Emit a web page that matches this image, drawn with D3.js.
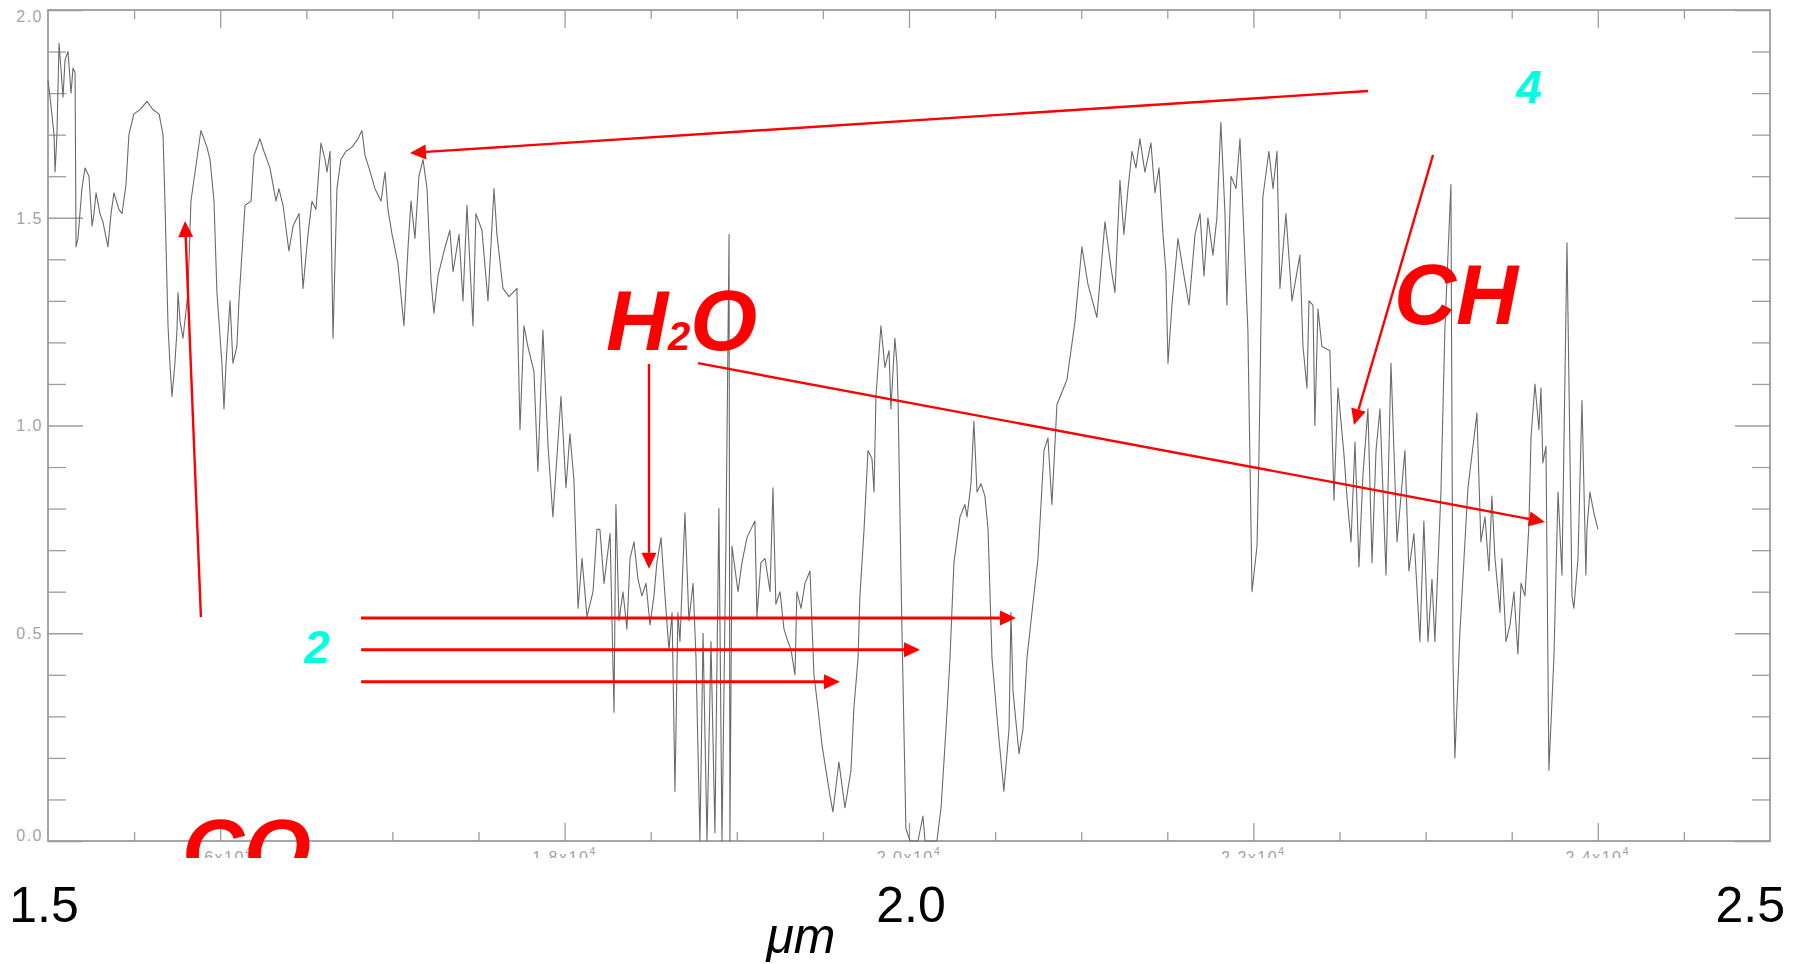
<!DOCTYPE html>
<html lang="en">
<head>
	<meta charset="UTF-8">
	<title>near-IR spectrum</title>
	<script src="https://cdn.jsdelivr.net/npm/d3@7"></script>
	<style>
		body{margin:0;background:#fff;}
		svg{display:block;font-family:"Liberation Sans",Arial,sans-serif;}
	</style>
</head>
<body>
<div id="chart"></div>
<script>
// spectrum: wavelength in Angstrom, relative flux
var wavelength = [
	15000,15012,15035,15041,15052,15064,15075,15087,15099,15116,15134,15145,15157,15163,15174,15197,15215,15238,15256,15267,
	15279,15302,15319,15348,15366,15383,15412,15430,15453,15470,15499,15534,15575,15610,15645,15668,15679,15697,15708,15720,
	15737,15749,15755,15767,15784,15813,15830,15854,15888,15923,15941,15964,15981,16010,16022,16034,16057,16074,16097,16109,
	16144,16179,16196,16231,16254,16289,16324,16341,16365,16399,16423,16458,16481,16510,16533,16556,16585,16609,16620,16638,
	16655,16678,16701,16730,16765,16800,16823,16841,16864,16899,16934,16957,16974,16998,17032,17067,17091,17108,17131,17154,
	17178,17201,17224,17241,17265,17300,17334,17352,17387,17410,17433,17468,17485,17520,17555,17590,17607,17642,17677,17723,
	17741,17764,17787,17822,17845,17874,17904,17932,17979,18008,18031,18054,18078,18101,18130,18165,18188,18205,18229,18264,
	18287,18298,18316,18339,18362,18380,18403,18426,18449,18473,18496,18519,18536,18560,18583,18606,18624,18641,18658,18670,
	18699,18722,18746,18763,18786,18804,18827,18850,18873,18896,18914,18937,18955,18960,18972,19007,19030,19059,19082,19105,
	19117,19140,19164,19193,19210,19227,19251,19274,19297,19315,19338,19349,19373,19396,19425,19448,19471,19495,19541,19558,
	19593,19628,19663,19680,19704,19715,19739,19762,19785,19797,19808,19837,19860,19884,19895,19918,19930,19936,19959,19982,
	20006,20052,20081,20093,20162,20186,20215,20238,20261,20296,20325,20337,20360,20377,20395,20418,20441,20459,20482,20517,
	20551,20581,20592,20604,20639,20662,20685,20714,20749,20784,20807,20830,20859,20917,20964,21004,21039,21091,21138,21173,
	21196,21225,21248,21272,21295,21318,21341,21370,21405,21428,21452,21475,21492,21504,21527,21562,21597,21626,21661,21690,
	21713,21736,21765,21788,21811,21835,21846,21870,21899,21922,21945,21968,21992,22021,22032,22055,22090,22114,22137,22154,
	22189,22224,22270,22288,22311,22323,22346,22357,22375,22398,22444,22468,22491,22526,22543,22567,22590,22613,22636,22665,
	22689,22712,22735,22770,22799,22834,22880,22903,22932,22967,22990,23014,23037,23054,23089,23112,23147,23159,23170,23199,
	23223,23246,23281,23298,23321,23345,23368,23385,23403,23432,23443,23467,23490,23513,23536,23554,23577,23600,23612,23635,
	23658,23670,23681,23699,23716,23745,23769,23792,23821,23850,23861,23885,23908,23931,23937,23954,23977,24001
];
var flux = [
	1.83,1.79,1.70,1.61,1.70,1.92,1.86,1.79,1.88,1.90,1.80,1.86,1.85,1.43,1.45,1.57,1.62,1.60,1.48,1.51,
	1.56,1.51,1.49,1.43,1.51,1.56,1.52,1.51,1.58,1.70,1.75,1.76,1.78,1.76,1.75,1.70,1.54,1.24,1.15,1.07,
	1.15,1.23,1.32,1.25,1.21,1.32,1.54,1.61,1.71,1.67,1.64,1.54,1.32,1.15,1.04,1.15,1.30,1.15,1.19,1.30,
	1.53,1.54,1.65,1.69,1.66,1.62,1.54,1.57,1.53,1.42,1.48,1.51,1.33,1.46,1.54,1.52,1.68,1.64,1.61,1.66,
	1.21,1.57,1.64,1.66,1.67,1.69,1.71,1.65,1.62,1.57,1.54,1.61,1.52,1.46,1.39,1.24,1.43,1.54,1.45,1.60,
	1.64,1.57,1.35,1.27,1.36,1.42,1.47,1.37,1.46,1.30,1.53,1.24,1.51,1.47,1.30,1.57,1.46,1.33,1.31,1.33,
	0.99,1.24,1.19,1.13,0.89,1.23,0.95,0.78,1.07,0.85,0.98,0.87,0.56,0.68,0.54,0.60,0.75,0.75,0.62,0.74,
	0.31,0.81,0.53,0.60,0.51,0.68,0.72,0.63,0.59,0.62,0.52,0.59,0.67,0.73,0.59,0.46,0.55,0.12,0.55,0.48,
	0.79,0.53,0.62,0.44,0.00,0.50,0.00,0.48,0.02,0.80,0.00,0.72,1.46,0.00,0.71,0.60,0.67,0.73,0.75,0.77,
	0.54,0.67,0.68,0.60,0.85,0.57,0.60,0.51,0.48,0.46,0.40,0.60,0.56,0.62,0.65,0.40,0.32,0.23,0.11,0.07,
	0.19,0.08,0.17,0.32,0.44,0.59,0.75,0.94,0.92,0.84,1.07,1.24,1.14,1.18,1.04,1.21,1.15,1.07,0.51,0.03,
	0.00,0.00,0.06,0.00,0.00,0.08,0.27,0.44,0.67,0.78,0.81,0.78,0.86,1.01,0.84,0.86,0.83,0.75,0.44,0.27,
	0.12,0.27,0.55,0.36,0.21,0.27,0.44,0.55,0.68,0.94,0.97,0.81,1.05,1.11,1.25,1.43,1.34,1.26,1.49,1.38,
	1.32,1.59,1.46,1.57,1.66,1.62,1.69,1.61,1.68,1.56,1.62,1.46,1.37,1.15,1.29,1.45,1.36,1.29,1.46,1.51,
	1.36,1.50,1.41,1.50,1.73,1.51,1.29,1.60,1.57,1.69,1.46,1.23,0.60,0.71,0.92,1.55,1.66,1.57,1.66,1.33,
	1.51,1.30,1.41,1.19,1.09,1.30,1.29,1.00,1.28,1.19,1.18,0.82,1.09,0.93,0.83,0.72,0.96,0.66,0.88,1.04,
	0.67,0.94,1.04,0.64,1.15,0.72,0.94,0.65,0.74,0.48,0.77,0.48,0.63,0.48,0.84,1.23,1.58,0.44,0.20,0.50,
	0.68,0.85,0.97,1.03,0.72,0.78,0.65,0.83,0.68,0.55,0.68,0.48,0.52,0.60,0.45,0.62,0.59,0.76,0.97,1.10,
	0.99,1.09,0.91,0.95,0.17,0.44,0.84,0.64,1.44,0.59,0.56,0.68,1.06,0.64,0.75,0.84,0.79,0.75
];

// inner plot ticks
var yMajor = [0, 0.5, 1.0, 1.5, 2.0];
var yMajorLabels = ["0.0", "0.5", "1.0", "1.5", "2.0"];
var xMajor = [16000, 18000, 20000, 22000, 24000];
var xMajorLabels = ["1.6", "1.8", "2.0", "2.2", "2.4"]; // x10^4

// slide labels below the plot, in micron
var umTicks = [1.5, 2.0, 2.5];
var umLabels = ["1.5", "2.0", "2.5"];

// red annotation arrows, [wavelength, flux] from -> to
var arrowFrom = [[22665, 1.805], [15888, 0.539], [18490, 1.148], [18775, 1.150], [23043, 1.651],
	[16818, 0.537], [16818, 0.460], [16818, 0.383]];
var arrowTo = [[17102, 1.656], [15796, 1.492], [18490, 0.655], [23693, 0.768], [22584, 1.001],
	[20621, 0.537], [20064, 0.460], [19599, 0.383]];

// molecule labels (red) and band numbers (cyan), baseline-left anchors
var molText = ["CO", "H2O", "CH"];
var molPos = [[15778, -0.091], [18240, 1.182], [22816, 1.244]];
var bandText = ["4", "2"];
var bandPos = [[23525, 1.776], [16487, 0.428]];

window.onload = function(){
	var W = 1799, H = 964;
	var svg = d3.select("#chart").append("svg")
		.attr("width", W).attr("height", H);

	var left = 48, right = 1770, top = 10, bottom = 841;

	var x = d3.scaleLinear().domain([15000, 25000]).range([left, right]);
	var y = d3.scaleLinear().domain([0, 2]).range([bottom, top]);
	var um = d3.scaleLinear().domain([1.5, 2.5]).range([left, right]);

	// the plot picture is cut off just under its axis
	svg.append("clipPath").attr("id", "cut")
		.append("rect").attr("x", 0).attr("y", 0).attr("width", W).attr("height", 858);
	var plot = svg.append("g").attr("clip-path", "url(#cut)");

	var axisCol = "#9d9d9d";

	function styleAxis(g){
		g.select(".domain").remove();
		g.selectAll(".tick line").attr("stroke", axisCol).attr("stroke-width", 1.3);
	}

	var xMinor = d3.range(15500, 25000, 500).filter(function(v){ return xMajor.indexOf(v) < 0; });
	var yMinor = d3.range(1, 20).map(function(i){ return i / 10; }).filter(function(v){ return v * 2 % 1 !== 0; });

	plot.append("g").attr("transform", "translate(0," + bottom + ")")
		.call(d3.axisBottom(x).tickValues(xMajor).tickSize(-18).tickFormat("")).call(styleAxis);
	plot.append("g").attr("transform", "translate(0," + bottom + ")")
		.call(d3.axisBottom(x).tickValues(xMinor).tickSize(-9).tickFormat("")).call(styleAxis);
	plot.append("g").attr("transform", "translate(0," + top + ")")
		.call(d3.axisTop(x).tickValues(xMajor).tickSize(-18).tickFormat("")).call(styleAxis);
	plot.append("g").attr("transform", "translate(0," + top + ")")
		.call(d3.axisTop(x).tickValues(xMinor).tickSize(-9).tickFormat("")).call(styleAxis);

	plot.append("g").attr("transform", "translate(" + left + ",0)")
		.call(d3.axisLeft(y).tickValues(yMajor).tickSize(-35).tickFormat("")).call(styleAxis);
	plot.append("g").attr("transform", "translate(" + left + ",0)")
		.call(d3.axisLeft(y).tickValues(yMinor).tickSize(-18).tickFormat("")).call(styleAxis);
	plot.append("g").attr("transform", "translate(" + right + ",0)")
		.call(d3.axisRight(y).tickValues(yMajor).tickSize(-35).tickFormat("")).call(styleAxis);
	plot.append("g").attr("transform", "translate(" + right + ",0)")
		.call(d3.axisRight(y).tickValues(yMinor).tickSize(-18).tickFormat("")).call(styleAxis);

	plot.append("rect")
		.attr("x", left).attr("y", top)
		.attr("width", right - left).attr("height", bottom - top)
		.attr("fill", "none").attr("stroke", axisCol).attr("stroke-width", 1.8);

	// y labels, the end ones are pushed inside
	plot.selectAll("text.ylab").data(yMajor).enter().append("text")
		.attr("class", "ylab")
		.attr("x", left - 5)
		.attr("y", function(d){ return y(d); })
		.attr("dy", function(d){ return d === 0 ? "0em" : (d === 2 ? "0.72em" : "0.36em"); })
		.attr("text-anchor", "end")
		.attr("font-size", 16).attr("letter-spacing", 1.5)
		.attr("fill", "#a3a3a3")
		.text(function(d, i){ return yMajorLabels[i]; });

	// x labels, IDL style 1.6x10^4
	var xl = plot.selectAll("text.xlab").data(xMajor).enter().append("text")
		.attr("class", "xlab")
		.attr("x", function(d){ return x(d); })
		.attr("y", 863)
		.attr("text-anchor", "middle")
		.attr("font-size", 16).attr("letter-spacing", 1.5)
		.attr("fill", "#a3a3a3");
	xl.append("tspan").text(function(d, i){ return xMajorLabels[i] + "x10"; });
	xl.append("tspan").attr("dy", -8).attr("font-size", 11).text("4");

	// spectrum
	var line = d3.line()
		.x(function(i){ return x(wavelength[i]); })
		.y(function(i){ return y(flux[i]); });
	plot.append("path")
		.attr("d", line(d3.range(wavelength.length)))
		.attr("fill", "none")
		.attr("stroke", "#6b6b6b")
		.attr("stroke-width", 1.1)
		.attr("stroke-linejoin", "round");

	// arrows
	var red = "#ff0000";
	var arrows = svg.append("g");
	arrowFrom.forEach(function(p0, i){
		var p1 = arrowTo[i];
		var x0 = x(p0[0]), y0 = y(p0[1]), x1 = x(p1[0]), y1 = y(p1[1]);
		var dx = x1 - x0, dy = y1 - y0, L = Math.sqrt(dx * dx + dy * dy);
		var ux = dx / L, uy = dy / L, hl = 16, hw = 7.5;
		var bx = x1 - ux * hl, by = y1 - uy * hl;
		arrows.append("line")
			.attr("x1", x0).attr("y1", y0).attr("x2", bx).attr("y2", by)
			.attr("stroke", red).attr("stroke-width", i >= 5 ? 3 : 2.4);
		arrows.append("path")
			.attr("d", "M" + x1 + "," + y1 + "L" + (bx - uy * hw) + "," + (by + ux * hw) +
				"L" + (bx + uy * hw) + "," + (by - ux * hw) + "Z")
			.attr("fill", red);
	});

	// molecule labels, digits drawn smaller
	molText.forEach(function(t, i){
		var layer = i === 0 ? plot : svg;
		var tx = layer.append("text")
			.attr("x", x(molPos[i][0])).attr("y", y(molPos[i][1]))
			.attr("font-size", 86).attr("font-weight", "bold").attr("font-style", "italic")
			.attr("fill", red);
		t.split("").forEach(function(c){
			tx.append("tspan").attr("font-size", /\d/.test(c) ? 40 : 86).text(c);
		});
	});

	bandText.forEach(function(t, i){
		svg.append("text")
			.attr("x", x(bandPos[i][0])).attr("y", y(bandPos[i][1]))
			.attr("font-size", 46).attr("font-weight", "bold").attr("font-style", "italic")
			.attr("fill", "#00ffe1")
			.text(t);
	});

	// micron labels under the picture
	var umAnchor = ["middle", "middle", "end"];
	var umShift = [-4, 2, 15];
	svg.selectAll("text.um").data(umTicks).enter().append("text")
		.attr("class", "um")
		.attr("x", function(d, i){ return um(d) + umShift[i]; })
		.attr("y", 922)
		.attr("text-anchor", function(d, i){ return umAnchor[i]; })
		.attr("font-size", 50)
		.attr("fill", "#000")
		.text(function(d, i){ return umLabels[i]; });

	svg.append("text")
		.attr("x", 801).attr("y", 953)
		.attr("text-anchor", "middle")
		.attr("font-size", 50).attr("font-style", "italic")
		.attr("fill", "#000")
		.text("μm");
};
</script>
</body>
</html>
